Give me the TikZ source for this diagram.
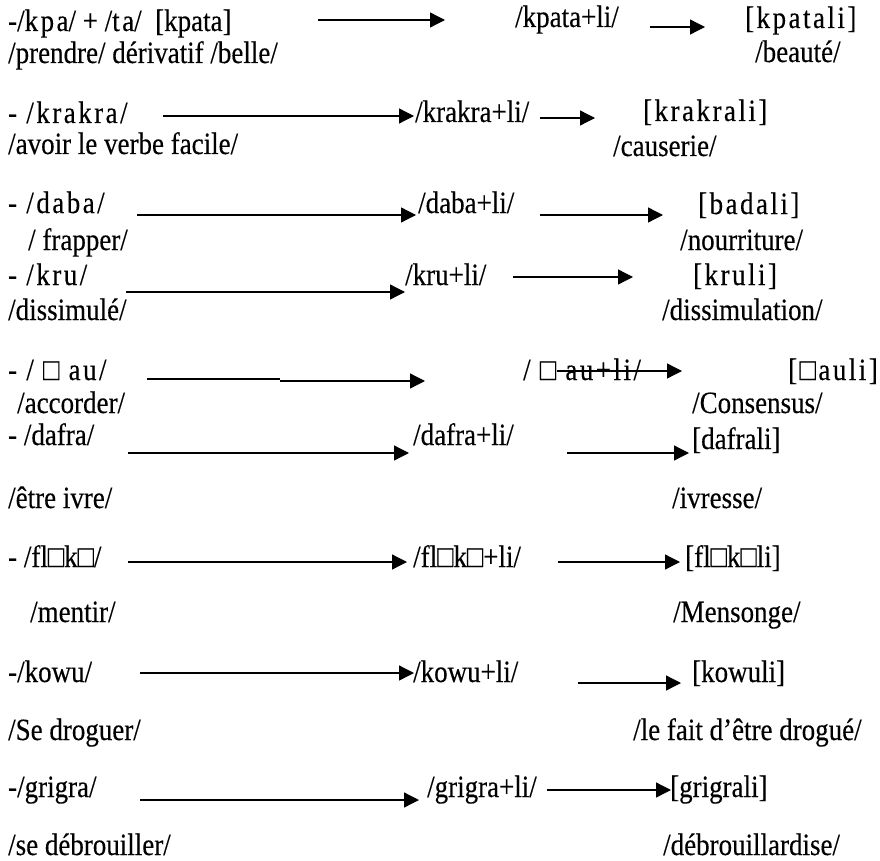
\documentclass[tikz,border=0pt]{standalone}
\usepackage{fontspec}
\setmainfont{Liberation Serif}[FakeStretch=0.87,FakeBold=0.3]
\newfontfamily\spcfont{Liberation Serif}[FakeStretch=0.87,FakeBold=0.3,LetterSpace=8]
\usetikzlibrary{arrows.meta}
\begin{document}
\begin{tikzpicture}[x=1pt,y=-1pt,
  txt/.style={anchor=base west, inner sep=0pt, font=\fontsize{31}{34}\selectfont},
  spc/.style={anchor=base west, inner sep=0pt, font=\fontsize{31}{34}\selectfont\spcfont},
  arr/.style={line width=1.3pt, -{Triangle[length=15pt,width=15pt]}}]
\useasboundingbox (0,0) rectangle (880,861);
% Row 1
\node[txt] (n1a) at (8,31) {-/{\spcfont kpa}/ + /{\spcfont ta}/\ \ [kpata]};
\node[txt] (n1b) at (8,63) {/prendre/ dérivatif /belle/};
\node[txt] (n1c) at (515,27) {/kpata+li/};
\node[spc] (n1d) at (745,28) {[kpatali]};
\node[txt] (n1e) at (755,62) {/beauté/};
\coordinate (a1s) at (318,20); \coordinate (a1e) at (445,20);
\coordinate (b1s) at (650,27); \coordinate (b1e) at (705,27);
\draw[arr] (a1s) -- (a1e);
\draw[arr] (b1s) -- (b1e);
% Row 2
\node[spc] (n2a) at (8,123) {- /krakra/};
\node[txt] (n2b) at (8,154) {/avoir le verbe facile/};
\node[txt] (n2c) at (415,122) {/krakra+li/};
\node[spc] (n2d) at (643,121) {[krakrali]};
\node[txt] (n2e) at (613,156) {/causerie/};
\coordinate (a2s) at (163,116); \coordinate (a2e) at (414,116);
\coordinate (b2s) at (540,118); \coordinate (b2e) at (595,118);
\draw[arr] (a2s) -- (a2e);
\draw[arr] (b2s) -- (b2e);
% Row 3
\node[spc] (n3a) at (8,213) {- /daba/};
\node[txt] (n3b) at (28,250) {/ frapper/};
\node[txt] (n3c) at (418,213) {/daba+li/};
\node[spc] (n3d) at (698,214) {[badali]};
\node[txt] (n3e) at (680,250) {/nourriture/};
\coordinate (a3s) at (137,215); \coordinate (a3e) at (416,215);
\coordinate (b3s) at (540,215); \coordinate (b3e) at (663,215);
\draw[arr] (a3s) -- (a3e);
\draw[arr] (b3s) -- (b3e);
% Row 4
\node[spc] (n4a) at (8,285) {- /kru/};
\node[txt] (n4b) at (8,320) {/dissimulé/};
\node[txt] (n4c) at (405,285) {/kru+li/};
\node[spc] (n4d) at (693,285) {[kruli]};
\node[txt] (n4e) at (662,320) {/dissimulation/};
\coordinate (a4s) at (126,292); \coordinate (a4e) at (405,292);
\coordinate (b4s) at (513,277); \coordinate (b4e) at (633,277);
\draw[arr] (a4s) -- (a4e);
\draw[arr] (b4s) -- (b4e);
% Row 5
\node[spc] (n5a) at (8,380) {- / □ au/};
\node[txt] (n5b) at (17,413) {/accorder/};
\node[spc] (n5c) at (523,380) {/ □ au+li/};
\node[spc] (n5d) at (788,380) {[□auli]};
\node[txt] (n5e) at (692,413) {/Consensus/};
\coordinate (a5s) at (147,379); \coordinate (a5m) at (280,379);
\coordinate (a5n) at (280,381); \coordinate (a5e) at (425,381);
\coordinate (b5s) at (557,371); \coordinate (b5e) at (682,371);
\draw[line width=1.3pt] (a5s) -- (a5m);
\draw[arr] (a5n) -- (a5e);
\draw[arr] (b5s) -- (b5e);
% Row 6
\node[txt] (n6a) at (8,445) {- /dafra/};
\node[txt] (n6b) at (8,508) {/être ivre/};
\node[txt] (n6c) at (413,445) {/dafra+li/};
\node[txt] (n6d) at (692,449) {[dafrali]};
\node[txt] (n6e) at (672,508) {/ivresse/};
\coordinate (a6s) at (128,453); \coordinate (a6e) at (409,453);
\coordinate (b6s) at (567,453); \coordinate (b6e) at (689,453);
\draw[arr] (a6s) -- (a6e);
\draw[arr] (b6s) -- (b6e);
% Row 7
\node[txt] (n7a) at (8,567) {- /fl□k□/};
\node[txt] (n7b) at (30,622) {/mentir/};
\node[txt] (n7c) at (413,567) {/fl□k□+li/};
\node[txt] (n7d) at (685,567) {[fl□k□li]};
\node[txt] (n7e) at (673,622) {/Mensonge/};
\coordinate (a7s) at (128,562); \coordinate (a7e) at (407,562);
\coordinate (b7s) at (558,562); \coordinate (b7e) at (680,562);
\draw[arr] (a7s) -- (a7e);
\draw[arr] (b7s) -- (b7e);
% Row 8
\node[txt] (n8a) at (8,682) {-/kowu/};
\node[txt] (n8b) at (8,740) {/Se droguer/};
\node[txt] (n8c) at (413,682) {/kowu+li/};
\node[txt] (n8d) at (692,682) {[kowuli]};
\node[txt] (n8e) at (633,740) {/le fait d’être drogué/};
\coordinate (a8s) at (140,673); \coordinate (a8e) at (414,673);
\coordinate (b8s) at (578,683); \coordinate (b8e) at (681,683);
\draw[arr] (a8s) -- (a8e);
\draw[arr] (b8s) -- (b8e);
% Row 9
\node[txt] (n9a) at (8,797) {-/grigra/};
\node[txt] (n9b) at (8,855) {/se débrouiller/};
\node[txt] (n9c) at (427,797) {/grigra+li/};
\node[txt] (n9d) at (670,797) {[grigrali]};
\node[txt] (n9e) at (663,855) {/débrouillardise/};
\coordinate (a9s) at (140,800); \coordinate (a9e) at (419,800);
\coordinate (b9s) at (547,790); \coordinate (b9e) at (671,790);
\draw[arr] (a9s) -- (a9e);
\draw[arr] (b9s) -- (b9e);
\end{tikzpicture}
\end{document}
